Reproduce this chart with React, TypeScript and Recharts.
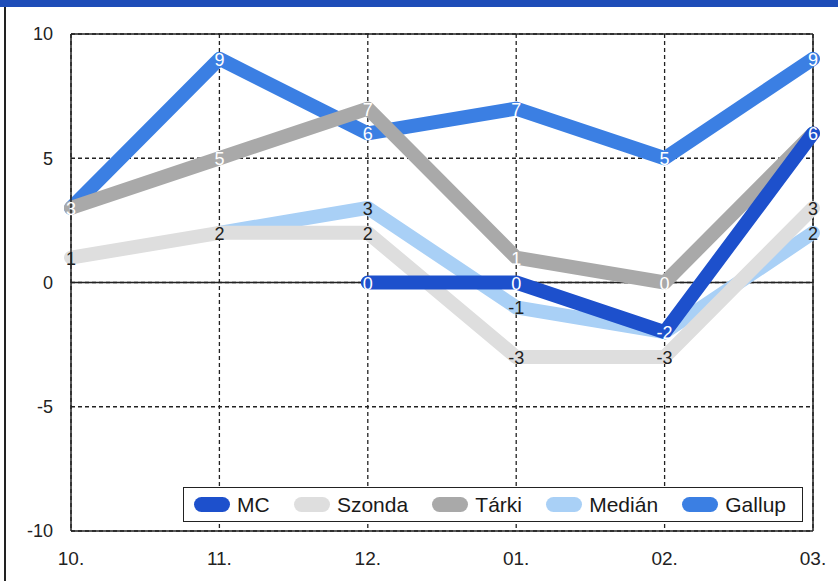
import { CartesianGrid, LabelList, Legend, Line, LineChart, ReferenceLine, XAxis, YAxis } from 'recharts'

// ── Data ──

const MONTHS = ['10.', '11.', '12.', '01.', '02.', '03.']
const MC = [null, null, 0, 0, -2, 6]
const SZONDA = [1, 2, 2, -3, -3, 3]
const TARKI = [3, 5, 7, 1, 0, 6]
const MEDIAN = [null, 2, 3, -1, -2, 2]
const GALLUP = [3, 9, 6, 7, 5, 9]
const Y_TICKS = [-10, -5, 0, 5, 10]

// draw order: first is at the bottom, last on top
const SERIES = [
  { key: 'gallup', name: 'Gallup', values: GALLUP, color: '#3b7fe3', label: '#ffffff' },
  { key: 'median', name: 'Medián', values: MEDIAN, color: '#a9d0f6', label: '#222222' },
  { key: 'szonda', name: 'Szonda', values: SZONDA, color: '#dedede', label: '#222222' },
  { key: 'tarki', name: 'Tárki', values: TARKI, color: '#a9a9a9', label: '#ffffff' },
  { key: 'mc', name: 'MC', values: MC, color: '#1d50cc', label: '#ffffff' },
]
const LEGEND_ORDER = ['mc', 'szonda', 'tarki', 'median', 'gallup']

const data = MONTHS.map((m, i) => {
  const row: Record<string, string | number | null> = { month: m }
  SERIES.forEach((s) => (row[s.key] = s.values[i]))
  return row
})

const FONT = '"Liberation Sans", Arial, Helvetica, sans-serif'

// a label is hidden when a series drawn later sits on the same value
function covered(pos: number, index: number) {
  const v = SERIES[pos].values[index]
  return SERIES.slice(pos + 1).some((s) => s.values[index] === v)
}

function makeLabel(pos: number) {
  return function PointLabel(props: any) {
    const { x, y, value, index } = props
    if (value === null || value === undefined || covered(pos, index)) return null
    return (
      <text
        x={x}
        y={y + 1}
        fill={SERIES[pos].label}
        fontFamily={FONT}
        fontSize={18}
        textAnchor="middle"
        dominantBaseline="central"
      >
        {value}
      </text>
    )
  }
}

function LegendBox() {
  return (
    <div
      style={{
        boxSizing: 'border-box',
        width: 620,
        height: 35,
        border: '1.5px solid #222',
        background: '#fff',
        display: 'flex',
        alignItems: 'center',
        justifyContent: 'space-between',
        padding: '0 16px 0 10px',
        fontFamily: FONT,
        fontSize: 21,
        color: '#1a1a1a',
      }}
    >
      {LEGEND_ORDER.map((k) => {
        const s = SERIES.find((x) => x.key === k)!
        return (
          <div key={k} style={{ display: 'flex', alignItems: 'center' }}>
            <span
              style={{
                display: 'inline-block',
                width: 36,
                height: 15,
                borderRadius: 8,
                background: s.color,
                marginRight: 7,
              }}
            />
            <span>{s.name}</span>
          </div>
        )
      })}
    </div>
  )
}

export default function App() {
  return (
    <div style={{ position: 'absolute', left: 0, top: 0, width: 838, height: 581, background: '#fff' }}>
      <div style={{ position: 'absolute', left: 0, top: 0, width: 838, height: 7, background: '#1e4db8' }} />
      <div style={{ position: 'absolute', left: 4, top: 7, width: 2, height: 574, background: '#222' }} />
      <LineChart width={838} height={581} data={data} margin={{ top: 34, right: 25, bottom: 10, left: 11 }}>
        <CartesianGrid stroke="#222" strokeWidth={1.3} strokeDasharray="4 3" />
        <XAxis
          dataKey="month"
          axisLine={{ stroke: '#222', strokeWidth: 1.5 }}
          tickLine={false}
          tickSize={0}
          tickMargin={21}
          height={40}
          tick={{ fill: '#222', fontSize: 19, fontFamily: FONT }}
        />
        <YAxis
          type="number"
          domain={[-10, 10]}
          ticks={Y_TICKS}
          width={60}
          axisLine={{ stroke: '#222', strokeWidth: 1.5 }}
          tickLine={false}
          tickSize={0}
          tickMargin={18}
          tick={{ fill: '#222', fontSize: 18, fontFamily: FONT }}
        />
        <ReferenceLine y={0} stroke="#222" strokeWidth={1.5} />
        <ReferenceLine y={10} stroke="#222" strokeWidth={1.5} />
        <ReferenceLine x="03." stroke="#222" strokeWidth={1.5} />
        {SERIES.map((s, pos) => (
          <Line
            key={s.key}
            dataKey={s.key}
            name={s.name}
            type="linear"
            stroke={s.color}
            strokeWidth={14}
            strokeLinejoin="round"
            strokeLinecap="round"
            dot={false}
            activeDot={false}
            isAnimationActive={false}
          >
            <LabelList dataKey={s.key} content={makeLabel(pos)} />
          </Line>
        ))}
        <Legend
          layout="horizontal"
          verticalAlign="middle"
          align="center"
          content={() => <LegendBox />}
          wrapperStyle={{ left: 183, top: 487, width: 620, height: 35 }}
        />
      </LineChart>
    </div>
  )
}
